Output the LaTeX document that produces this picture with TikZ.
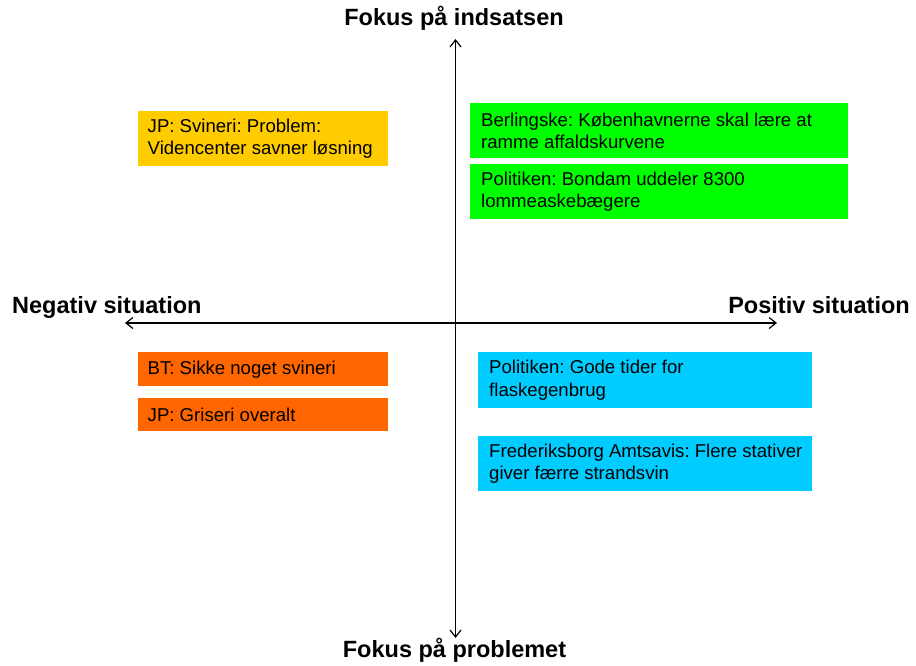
\documentclass[tikz,border=0pt]{standalone}
\usepackage{fontspec}
\setmainfont{Liberation Sans}
\usetikzlibrary{arrows.meta}
\definecolor{cyellow}{HTML}{FFCC00}
\definecolor{cgreen}{HTML}{00FF00}
\definecolor{corange}{HTML}{FF6600}
\definecolor{cblue}{HTML}{00CCFF}
\frenchspacing
\begin{document}
\frenchspacing
\begin{tikzpicture}[x=1pt,y=-1pt,
  box/.style={fill=#1, draw=none, anchor=north west, inner sep=0pt},
  txt/.style={anchor=west, align=left, inner sep=0pt, font=\fontsize{18.6}{22.5}\selectfont\frenchspacing},
  axislabel/.style={font=\fontsize{23.5}{28}\selectfont\bfseries, inner sep=0pt},
  axis/.style={line width=1.2pt, {Straight Barb[length=7pt,width=11pt]}-{Straight Barb[length=7pt,width=11pt]}}]
\useasboundingbox (0,0) rectangle (916,666);

% axes
\coordinate (top) at (455.5,39);
\coordinate (bottom) at (455.5,638);
\coordinate (left) at (125,323);
\coordinate (right) at (777,323);
\draw[axis] (bottom) -- (top);
\draw[axis] (left) -- (right);

% axis labels
\node[axislabel, anchor=base] (ltop) at (454,26) {Fokus på indsatsen};
\node[axislabel, anchor=base] (lbottom) at (454.5,657) {Fokus på problemet};
\node[axislabel, anchor=base west] (lleft) at (12,313) {Negativ situation};
\node[axislabel, anchor=base east] (lright) at (910,313) {Positiv situation};

% boxes
\node[box=cyellow, minimum width=250pt, minimum height=55pt] (b1) at (138,111) {};
\node[txt] (t1) at ([xshift=9.5pt]b1.west) {JP: Svineri: Problem:\\Videncenter savner løsning};

\node[box=cgreen, minimum width=378pt, minimum height=55pt] (b2) at (470,103) {};
\node[txt] (t2) at ([xshift=11pt]b2.west) {Berlingske: Københavnerne skal lære at\\ramme affaldskurvene};

\node[box=cgreen, minimum width=378pt, minimum height=55pt] (b3) at (470,164) {};
\node[txt] (t3) at ([xshift=11pt]b3.west) {Politiken: Bondam uddeler 8300\\lommeaskebægere};

\node[box=corange, minimum width=250pt, minimum height=34pt] (b4) at (138,352) {};
\node[txt] (t4) at ([xshift=9.5pt]b4.west) {BT: Sikke noget svineri};

\node[box=corange, minimum width=250pt, minimum height=33pt] (b5) at (138,398) {};
\node[txt] (t5) at ([xshift=9.5pt]b5.west) {JP: Griseri overalt};

\node[box=cblue, minimum width=334pt, minimum height=56pt] (b6) at (478,352) {};
\node[txt] (t6) at ([xshift=11pt]b6.west) {Politiken: Gode tider for\\flaskegenbrug};

\node[box=cblue, minimum width=334pt, minimum height=55pt] (b7) at (478,436) {};
\node[txt] (t7) at ([xshift=11pt]b7.west) {Frederiksborg Amtsavis: Flere stativer\\giver færre strandsvin};
\end{tikzpicture}
\end{document}
